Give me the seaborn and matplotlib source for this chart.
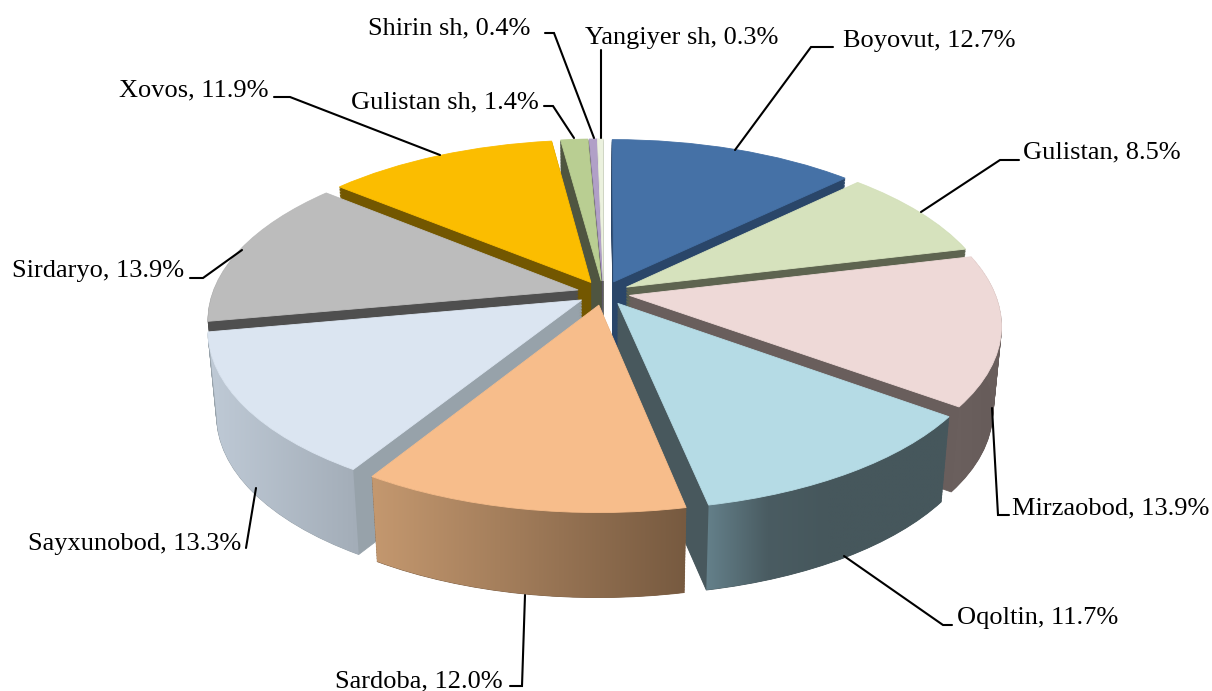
import numpy as np
import matplotlib
matplotlib.use('Agg')
import matplotlib.pyplot as plt
import seaborn as sns
from matplotlib.colors import LinearSegmentedColormap
from matplotlib.patches import Polygon
from matplotlib.transforms import Transform

# share of each district, %
names = ['Boyovut', 'Gulistan', 'Mirzaobod', 'Oqoltin', 'Sardoba', 'Sayxunobod',
         'Sirdaryo', 'Xovos', 'Gulistan sh', 'Shirin sh', 'Yangiyer sh']
shares = [12.7, 8.5, 13.9, 11.7, 12.0, 13.3, 13.9, 11.9, 1.4, 0.4, 0.3]

top_colors = ['#4571a6', '#d6e2bd', '#eed9d7', '#b5dbe5', '#f7bd8b', '#dbe5f1',
              '#bcbcbc', '#fbbd00', '#b9ce92', '#b1a0c7', '#ebf1de']
wall_colors = ['#2a4669', '#5e6450', '#695e5c', '#48585d', '#7a5c41', '#97a2aa',
               '#4f4f4f', '#735700', '#4f5540', '#5b5168', '#70746a']
# colours of the outer wall from left to right, for the slices facing us
wall_shades = {2: ('#6b605e', '#665b59'), 3: ('#64808a', '#4a5c62', '#46575c', '#46575c', '#46575c'),
               4: ('#c4986f', '#775a40'), 5: ('#bfcad6', '#a3adb8')}

# label corner (px), leader line (px)
label_pos = [(843, 41), (1023, 152), (1012, 508), (957, 618), (335, 681), (28, 544),
             (12, 271), (119, 90), (351, 102), (368, 28), (585, 38)]
leaders = [[(833, 47), (811, 47), (735, 150)],
           [(1019, 160), (1000, 160), (921, 212)],
           [(1009, 515), (998, 515), (992, 408)],
           [(952, 625), (943, 625), (844, 556)],
           [(510, 686), (522, 686), (525, 595)],
           [(246, 548), (246, 548), (256, 488)],
           [(190, 278), (203, 278), (242, 250)],
           [(274, 97), (290, 97), (440, 155)],
           [(544, 106), (553, 106), (574, 138)],
           [(545, 33), (554, 33), (594, 138)],
           [(601, 50), (601, 50), (601, 138)]]

explode_by = 0.072
depth = 85
cx, cy = 603.5, 293
rx, ry, tilt = 365.5, 169, 0.164


class Tilted(Transform):
    """pie plane -> picture pixels, near side drawn larger"""
    input_dims = output_dims = 2
    has_inverse = False

    def __init__(self, drop=0.0):
        super().__init__()
        self.drop = drop

    def transform_non_affine(self, xy):
        xy = np.asarray(xy, dtype=float)
        w = 1 + tilt * xy[:, 1]
        s = 1 - 0.022 * self.drop / depth
        return np.column_stack([cx + s * rx * xy[:, 0] / w,
                                cy - ry * xy[:, 1] / w + self.drop])

    def transform_path_non_affine(self, path):
        return type(path)(self.transform_non_affine(path.vertices), path.codes)


sns.set_theme(style='white')
plt.rcParams['font.family'] = ['Liberation Serif', 'DejaVu Serif']

fig = plt.figure(figsize=(12.12, 6.91), dpi=100)
ax = fig.add_axes([0, 0, 1, 1])
explode = [explode_by] * len(shares)


def draw_pie(colors, drop, zorder):
    wedges, _ = ax.pie(shares, explode=explode, colors=colors, startangle=90,
                       counterclock=False, wedgeprops=dict(linewidth=0.6))
    for w in wedges:
        w.set_edgecolor(w.get_facecolor())
        w.set_transform(Tilted(drop) + ax.transData)
        w.set_zorder(zorder)
    return wedges


# body of the pie: stacked copies going down
for i, drop in enumerate(np.arange(depth, 0, -1.5)):
    draw_pie(sns.color_palette(wall_colors), drop, 1 + i * 0.001)

top = draw_pie(sns.color_palette(top_colors), 0, 4)

ax.set_aspect('auto')
ax.axis('off')

# shaded outer walls
for idx, shades in wall_shades.items():
    w = top[idx]
    a = np.radians(np.linspace(w.theta1, w.theta2, 60))
    ox, oy = w.center
    arc = np.column_stack([ox + np.cos(a), oy + np.sin(a)])
    upper = Tilted(0).transform_non_affine(arc)
    lower = Tilted(depth).transform_non_affine(arc)
    outline = np.vstack([upper, lower[::-1]])
    x0, y0 = outline.min(axis=0)
    x1, y1 = outline.max(axis=0)
    cmap = LinearSegmentedColormap.from_list('wall', list(shades))
    im = ax.imshow(np.linspace(0, 1, 128)[None, :], cmap=cmap, aspect='auto',
                   extent=(x0, x1, y1, y0), zorder=3, interpolation='bilinear')
    im.set_clip_path(Polygon(outline, closed=True, transform=ax.transData))
ax.set_xlim(0, 1212)
ax.set_ylim(691, 0)

for name, value, (x, y), line in zip(names, shares, label_pos, leaders):
    ax.text(x, y, f'{name}, {value}%', fontsize=19, color='black',
            ha='left', va='center', zorder=6)
    xs, ys = zip(*line)
    ax.plot(xs, ys, color='black', lw=1.5, zorder=5, solid_joinstyle='miter')

fig.savefig('out.png', dpi=100)
